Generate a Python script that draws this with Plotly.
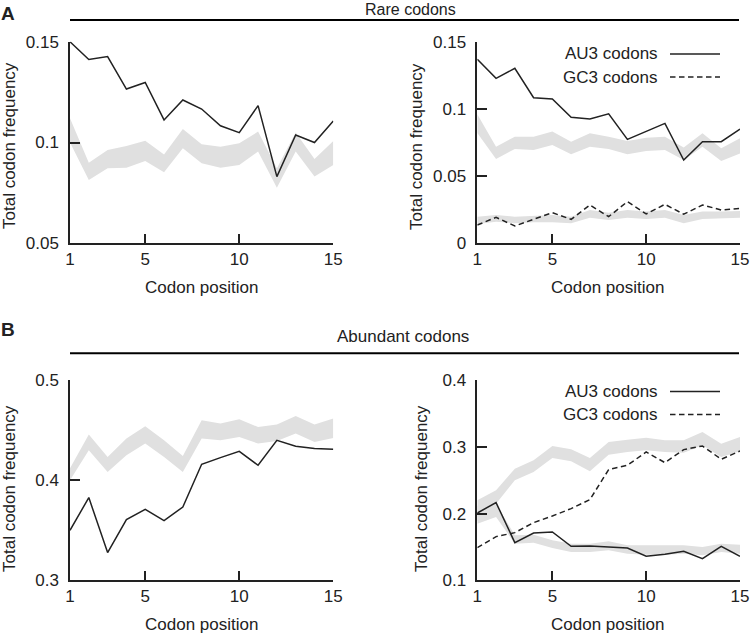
import plotly.graph_objects as go

W, H = 751, 633
positions = list(range(1, 16))

# Panel A (rare codons), left: all rare codons
rare_all = [0.150, 0.1412, 0.1426, 0.1265, 0.1298, 0.1112, 0.1211, 0.1166, 0.1083, 0.1049, 0.1183, 0.0831, 0.1037, 0.1000, 0.1107]
rare_all_hi = [0.112, 0.0900, 0.0963, 0.0983, 0.1009, 0.0941, 0.1067, 0.0991, 0.0979, 0.0996, 0.1054, 0.0872, 0.1050, 0.0918, 0.1007]
rare_all_lo = [0.100, 0.0814, 0.0872, 0.0875, 0.0908, 0.0852, 0.0971, 0.0897, 0.0875, 0.0888, 0.0955, 0.0776, 0.0955, 0.0831, 0.0888]

# Panel A, right: AU3 / GC3 rare codons
rare_au3 = [0.1369, 0.1227, 0.1302, 0.1083, 0.1074, 0.0937, 0.0925, 0.0964, 0.0773, 0.0830, 0.0892, 0.0620, 0.0756, 0.0756, 0.0850]
rare_gc3 = [0.0136, 0.0193, 0.0129, 0.0178, 0.0228, 0.0178, 0.0285, 0.0198, 0.0310, 0.0218, 0.0290, 0.0216, 0.0285, 0.0248, 0.0260]
rare_au3_hi = [0.096, 0.0719, 0.0793, 0.0793, 0.0831, 0.0756, 0.0818, 0.0793, 0.0761, 0.0786, 0.0793, 0.0712, 0.0818, 0.0707, 0.0781]
rare_au3_lo = [0.082, 0.0627, 0.0702, 0.0694, 0.0731, 0.0662, 0.0719, 0.0702, 0.0662, 0.0687, 0.0694, 0.0620, 0.0719, 0.0612, 0.0669]
rare_gc3_hi = [0.0198, 0.0211, 0.0198, 0.0203, 0.0211, 0.0198, 0.0248, 0.0228, 0.0248, 0.0236, 0.0248, 0.0211, 0.0236, 0.0236, 0.0241]
rare_gc3_lo = [0.0144, 0.0161, 0.0149, 0.0156, 0.0156, 0.0149, 0.0191, 0.0173, 0.0191, 0.0181, 0.0191, 0.0149, 0.0181, 0.0186, 0.0191]

# Panel B (abundant codons), left
abund_all = [0.350, 0.3827, 0.3277, 0.3607, 0.371, 0.3597, 0.3733, 0.416, 0.4227, 0.429, 0.415, 0.440, 0.434, 0.4317, 0.431]
abund_all_hi = [0.412, 0.4457, 0.4233, 0.4417, 0.454, 0.440, 0.4243, 0.460, 0.4567, 0.461, 0.4533, 0.4557, 0.4643, 0.4557, 0.4617]
abund_all_lo = [0.400, 0.430, 0.4083, 0.425, 0.4367, 0.4233, 0.4083, 0.4417, 0.440, 0.4433, 0.4367, 0.4393, 0.4467, 0.4383, 0.4423]

# Panel B, right
abund_au3 = [0.201, 0.2165, 0.1565, 0.171, 0.1725, 0.151, 0.1515, 0.150, 0.1485, 0.136, 0.139, 0.1435, 0.1325, 0.151, 0.136]
abund_gc3 = [0.149, 0.1655, 0.1715, 0.1865, 0.1965, 0.2075, 0.221, 0.266, 0.2725, 0.2925, 0.2765, 0.296, 0.3015, 0.2815, 0.294]
abund_gc3_hi = [0.220, 0.235, 0.2675, 0.280, 0.3015, 0.2965, 0.2835, 0.3075, 0.311, 0.314, 0.310, 0.310, 0.3225, 0.305, 0.315]
abund_gc3_lo = [0.1885, 0.215, 0.250, 0.2625, 0.2835, 0.2785, 0.2635, 0.2885, 0.2925, 0.295, 0.2925, 0.2915, 0.3025, 0.285, 0.2935]
abund_au3_hi = [0.212, 0.215, 0.1675, 0.1685, 0.160, 0.155, 0.155, 0.1585, 0.1525, 0.1525, 0.1515, 0.1525, 0.150, 0.155, 0.1535]
abund_au3_lo = [0.185, 0.195, 0.155, 0.1565, 0.1485, 0.1425, 0.1425, 0.145, 0.140, 0.1385, 0.1385, 0.140, 0.1375, 0.1425, 0.140]

x_ticks = [1, 5, 10, 15]
yticks_a_left = [0.05, 0.1, 0.15]
yticks_a_right = [0, 0.05, 0.1, 0.15]
yticks_b_left = [0.3, 0.4, 0.5]
yticks_b_right = [0.1, 0.2, 0.3, 0.4]

header_a = "Rare codons"
header_b = "Abundant codons"
x_title = "Codon position"
y_title = "Total codon frequency"
legend_names = ["AU3 codons", "GC3 codons"]

FONT = "Arial, 'Liberation Sans', Helvetica, sans-serif"
INK = "#222222"
BAND = "#e0e0e0"
LW = 1.5
FS = 17


def px(x):
    return x / W


def py(y):
    return 1 - y / H


fig = go.Figure()


def band(hi, lo, ax):
    xa, ya = ax
    fig.add_trace(go.Scatter(x=positions, y=hi, mode="lines", line=dict(width=0, color=BAND),
                             xaxis=xa, yaxis=ya, showlegend=False, hoverinfo="skip"))
    fig.add_trace(go.Scatter(x=positions, y=lo, mode="lines", line=dict(width=0, color=BAND),
                             fill="tonexty", fillcolor=BAND,
                             xaxis=xa, yaxis=ya, showlegend=False, hoverinfo="skip"))


def line(vals, ax, dash="solid", name=None):
    xa, ya = ax
    fig.add_trace(go.Scatter(x=positions, y=vals, mode="lines", name=name,
                             line=dict(width=LW, color=INK, dash=dash),
                             xaxis=xa, yaxis=ya, showlegend=False))


DASH = "5.5px,3.5px"

band(rare_all_hi, rare_all_lo, ("x", "y"))
line(rare_all, ("x", "y"))

band(rare_au3_hi, rare_au3_lo, ("x2", "y2"))
band(rare_gc3_hi, rare_gc3_lo, ("x2", "y2"))
line(rare_au3, ("x2", "y2"), name=legend_names[0])
line(rare_gc3, ("x2", "y2"), dash=DASH, name=legend_names[1])

band(abund_all_hi, abund_all_lo, ("x3", "y3"))
line(abund_all, ("x3", "y3"))

band(abund_gc3_hi, abund_gc3_lo, ("x4", "y4"))
band(abund_au3_hi, abund_au3_lo, ("x4", "y4"))
line(abund_au3, ("x4", "y4"), name=legend_names[0])
line(abund_gc3, ("x4", "y4"), dash=DASH, name=legend_names[1])

xl = [px(70), px(333.3)]
xr = [px(477.3), px(740)]
ya_dom = [py(243.3), py(41.7)]
yb_dom = [py(580.3), py(380.3)]


def xaxis(domain, anchor):
    return dict(domain=domain, anchor=anchor, range=[1, 15], tickvals=x_ticks,
                ticktext=[str(v) for v in x_ticks], ticks="inside", ticklen=10, tickwidth=1.5,
                tickcolor=INK, showline=True, linecolor=INK, linewidth=1.5, showgrid=False,
                zeroline=False, tickfont=dict(family=FONT, size=FS, color=INK), fixedrange=True,
                automargin=False)


def yaxis(domain, anchor, rng, vals):
    return dict(domain=domain, anchor=anchor, range=rng, tickvals=vals,
                ticktext=[("%g" % v) for v in vals], ticks="inside", ticklen=10, tickwidth=1.5,
                tickcolor=INK, showline=True, linecolor=INK, linewidth=1.5, showgrid=False,
                zeroline=False, tickfont=dict(family=FONT, size=FS, color=INK),
                ticklabelstandoff=6, fixedrange=True, automargin=False)


fig.update_layout(
    width=W, height=H, margin=dict(l=0, r=0, t=0, b=0, autoexpand=False),
    paper_bgcolor="white", plot_bgcolor="white", showlegend=False,
    xaxis=xaxis(xl, "y"), yaxis=yaxis(ya_dom, "x", [0.05, 0.15], yticks_a_left),
    xaxis2=xaxis(xr, "y2"), yaxis2=yaxis(ya_dom, "x2", [0, 0.15], yticks_a_right),
    xaxis3=xaxis(xl, "y3"), yaxis3=yaxis(yb_dom, "x3", [0.3, 0.5], yticks_b_left),
    xaxis4=xaxis(xr, "y4"), yaxis4=yaxis(yb_dom, "x4", [0.1, 0.4], yticks_b_right),
)

ann = []
shapes = []


def text(x, y, s, size=FS, bold=False, angle=0, xanchor="center"):
    ann.append(dict(x=px(x), y=py(y), xref="paper", yref="paper", text=("<b>%s</b>" % s) if bold else s,
                    showarrow=False, xanchor=xanchor, yanchor="middle", textangle=angle,
                    font=dict(family=FONT, size=size, color=INK)))


# Headers
text(8, 14, "A", size=19, bold=True)
text(410, 10, header_a, size=16)
shapes.append(dict(type="line", xref="paper", yref="paper", x0=px(70), x1=px(739), y0=py(20), y1=py(20),
                   line=dict(color="black", width=2)))
text(8, 329, "B", size=19, bold=True)
text(403, 336, header_b)
shapes.append(dict(type="line", xref="paper", yref="paper", x0=px(70), x1=px(739), y0=py(353.3), y1=py(353.3),
                   line=dict(color="black", width=2)))

# Axis titles
text(201.7, 287, x_title)
text(607, 287, x_title)
text(201.7, 624, x_title)
text(607, 624, x_title)
text(9, 146, y_title, angle=-90)
text(416, 146, y_title, angle=-90)
text(9, 489, y_title, angle=-90)
text(421, 489, y_title, angle=-90)

# Legends (text on the left, sample line on the right)
for (y1, y2) in [(54, 77), (391.5, 414.5)]:
    text(660, y1, legend_names[0], xanchor="right")
    text(660, y2, legend_names[1], xanchor="right")
    shapes.append(dict(type="line", xref="paper", yref="paper", x0=px(670), x1=px(720), y0=py(y1), y1=py(y1),
                       line=dict(color=INK, width=LW)))
    shapes.append(dict(type="line", xref="paper", yref="paper", x0=px(670), x1=px(720), y0=py(y2), y1=py(y2),
                       line=dict(color=INK, width=LW, dash=DASH)))

fig.update_layout(annotations=ann, shapes=shapes)
fig.write_html("out.html", config={"displayModeBar": False},
               post_script="document.body.style.margin='0';document.body.style.padding='0';")
